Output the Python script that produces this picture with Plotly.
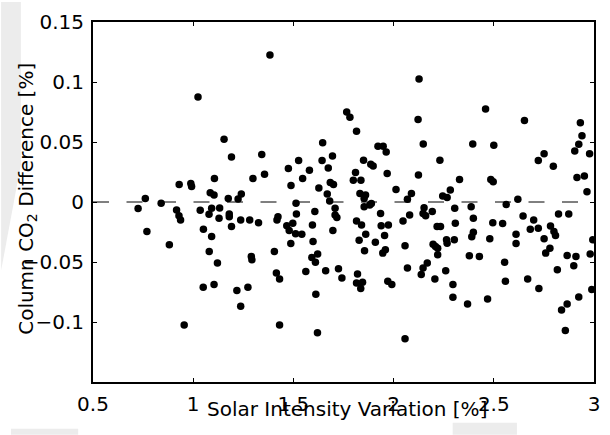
import plotly.graph_objects as go

# Solar intensity variation [%] and column CO2 difference [%] for each sounding
solar_var = [
    0.725, 0.761, 0.769, 0.840, 0.881, 0.917, 0.929, 0.937, 0.930, 0.955,
    0.988, 0.992, 1.024, 1.035, 1.051, 1.080, 1.085, 1.104, 1.079, 1.092,
    1.092, 1.106, 1.121, 1.104, 1.050, 1.129, 1.132, 1.154, 1.175, 1.180,
    1.180, 1.191, 1.191, 1.218, 1.224, 1.237, 1.237, 1.240, 1.273, 1.282,
    1.290, 1.293, 1.298, 1.326, 1.342, 1.356, 1.383, 1.405, 1.415, 1.431,
    1.431, 1.423, 1.418, 1.467, 1.497, 1.479, 1.475, 1.488, 1.487, 1.511,
    1.542, 1.513, 1.515, 1.526, 1.546, 1.562, 1.580, 1.592, 1.595, 1.598,
    1.607, 1.610, 1.612, 1.620, 1.621, 1.627, 1.643, 1.646, 1.661, 1.669,
    1.674, 1.681, 1.684, 1.695, 1.697, 1.700, 1.708, 1.708, 1.717, 1.725,
    1.742, 1.766, 1.782, 1.799, 1.810, 1.815, 1.815, 1.815, 1.820, 1.828,
    1.832, 1.836, 1.837, 1.840, 1.845, 1.850, 1.853, 1.853, 1.855, 1.860,
    1.861, 1.881, 1.886, 1.889, 1.898, 1.909, 1.922, 1.935, 1.938, 1.946,
    1.948, 1.955, 1.959, 1.963, 1.968, 1.971, 1.974, 1.991, 2.012, 2.047,
    2.057, 2.057, 2.069, 2.069, 2.080, 2.089, 2.122, 2.124, 2.127, 2.138,
    2.147, 2.147, 2.148, 2.152, 2.160, 2.168, 2.193, 2.197, 2.206, 2.209,
    2.217, 2.220, 2.220, 2.231, 2.234, 2.245, 2.260, 2.264, 2.267, 2.267,
    2.283, 2.296, 2.296, 2.303, 2.305, 2.308, 2.329, 2.369, 2.378, 2.387,
    2.390, 2.395, 2.398, 2.398, 2.428, 2.459, 2.469, 2.480, 2.485, 2.495,
    2.497, 2.500, 2.544, 2.554, 2.558, 2.562, 2.611, 2.611, 2.620, 2.646,
    2.653, 2.669, 2.682, 2.699, 2.722, 2.722, 2.725, 2.751, 2.751, 2.759,
    2.780, 2.783, 2.797, 2.800, 2.808, 2.817, 2.823, 2.838, 2.857, 2.866,
    2.866, 2.874, 2.899, 2.904, 2.910, 2.915, 2.924, 2.924, 2.932, 2.940,
    2.952, 2.965, 2.978, 2.981, 2.989, 2.994,
]
co2_diff = [
    -0.0055, 0.0030, -0.0246, -0.0010, -0.0357, -0.0066, -0.0114, -0.0149, 0.0146, -0.1026,
    0.0155, 0.0130, 0.0876, -0.0069, -0.0227, -0.0412, 0.0077, 0.0058, -0.0103, -0.0053,
    -0.0288, 0.0196, -0.0509, -0.0688, -0.0711, -0.0136, -0.0050, 0.0522, 0.0030, -0.0100,
    -0.0122, 0.0376, -0.0205, -0.0738, 0.0025, -0.0149, -0.0868, 0.0066, -0.0711, -0.0149,
    -0.0454, -0.0481, 0.0196, -0.0172, 0.0395, 0.0232, 0.1224, -0.0412, -0.0592, -0.0642,
    -0.1026, -0.0122, -0.0149, -0.0197, -0.0177, -0.0238, 0.0279, 0.0138, -0.0346, -0.0265,
    -0.0269, -0.0010, -0.0100, 0.0345, 0.0196, -0.0580, 0.0265, -0.0462, -0.0191, -0.0329,
    -0.0080, -0.0503, -0.0769, -0.1090, -0.0434, 0.0116, 0.0345, 0.0494, -0.0572, 0.0066,
    0.0284, 0.0008, 0.0163, 0.0384, -0.0238, 0.0146, -0.0053, -0.0108, -0.0130, -0.0556,
    -0.0634, 0.0749, 0.0707, 0.0182, 0.0245, 0.0589, -0.0158, -0.0675, -0.0600, -0.0318,
    0.0071, -0.0721, 0.0182, -0.0191, -0.0669, 0.0348, 0.0030, -0.0039, -0.0406, 0.0058,
    -0.0269, -0.0025, 0.0315, -0.0012, 0.0301, -0.0335, 0.0464, -0.0095, -0.0197, -0.0426,
    0.0464, -0.0279, -0.0398, 0.0417, 0.0237, -0.0661, -0.0191, -0.0688, 0.0104, -0.0158,
    -0.0365, -0.1139, 0.0022, -0.0551, -0.0108, 0.0071, 0.0688, 0.0224, 0.1025, -0.0605,
    -0.0095, -0.0551, 0.0483, -0.0047, -0.0114, -0.0509, -0.0080, -0.0352, -0.0642, -0.0371,
    -0.0205, -0.0385, -0.0440, 0.0348, -0.0205, 0.0050, -0.0572, -0.0315, 0.0038, -0.0343,
    0.0100, -0.0688, -0.0794, -0.0315, -0.0053, -0.0177, 0.0187, -0.0849, -0.0448, -0.0039,
    -0.0290, 0.0483, -0.0136, -0.0252, -0.0454, 0.0776, -0.0808, -0.0307, 0.0187, -0.0172,
    0.0168, 0.0473, -0.0180, -0.0503, -0.0661, -0.0020, -0.0269, -0.0346, 0.0022, -0.0116,
    0.0680, -0.0642, -0.0227, -0.0149, -0.0219, 0.0345, -0.0721, 0.0403, -0.0307, -0.0426,
    -0.0385, -0.0199, 0.0298, -0.0246, -0.0279, -0.0564, -0.0100, -0.0899, -0.1070, -0.0445,
    -0.0849, -0.0100, -0.0531, 0.0425, -0.0454, 0.0204, 0.0481, -0.0791, 0.0660, 0.0552,
    0.0216, 0.0085, 0.0403, -0.0434, -0.0730, -0.0315,
]

x_ticks = [0.5, 1, 1.5, 2, 2.5, 3]
x_ticklabels = ["0.5", "1", "1.5", "2", "2.5", "3"]
y_ticks = [-0.1, -0.05, 0, 0.05, 0.1, 0.15]
y_ticklabels = ["\u22120.1", "\u22120.05", "0", "0.05", "0.1", "0.15"]
x_range = [0.5, 3]
y_range = [-0.15, 0.15]

FONT = "DejaVu Sans"
W, H = 610, 435
ML, MR, MT, MB = 93, 10, 20, 53
PW, PH = W - ML - MR, H - MT - MB


def px_to_paper(px, py):
    return (px - ML) / PW, (H - MB - py) / PH


fig = go.Figure()

# zero reference line
fig.add_trace(go.Scatter(
    x=x_range, y=[0, 0], mode="lines",
    line=dict(color="black", width=1, dash="16px,17.5px"),
    hoverinfo="skip", showlegend=False,
))

fig.add_trace(go.Scatter(
    x=solar_var, y=co2_diff, mode="markers",
    marker=dict(color="black", size=7.5, line=dict(width=0)),
    showlegend=False,
))

axis_common = dict(
    showgrid=False, zeroline=False, showline=True, linecolor="black",
    linewidth=2, mirror="ticks", ticks="inside", ticklen=4, tickwidth=1,
    tickcolor="black", tickfont=dict(family=FONT, size=20, color="black"),
)
fig.update_xaxes(range=x_range, tickvals=x_ticks, ticktext=x_ticklabels,
                 ticklabelstandoff=3, **axis_common)
fig.update_yaxes(range=y_range, tickvals=y_ticks, ticktext=y_ticklabels,
                 ticklabelstandoff=3, **axis_common)

# faint grey background patches
bg = "#ececec"
x0, y0 = px_to_paper(0, 0)
x1, y1 = px_to_paper(20, 163)
x2, y2 = px_to_paper(0, 270)
shapes = [
    dict(type="path", xref="paper", yref="paper", layer="below",
         path=f"M {x0} {y0} L {x1} {y0} L {x1} {y1} L {x2} {y2} Z",
         fillcolor=bg, line=dict(width=0)),
]
for (a, b, c, d) in [(10, 429, 78, 435), (457, 423, 522, 435)]:
    ax, ay = px_to_paper(a, b)
    cx, cy = px_to_paper(c, d)
    shapes.append(dict(type="rect", xref="paper", yref="paper", layer="below",
                       x0=ax, y0=cy, x1=cx, y1=ay, fillcolor=bg, line=dict(width=0)))

tx, ty = px_to_paper(350, 409)
yx, yy = px_to_paper(26, 198)
annotations = [
    dict(text="Solar Intensity Variation [%]", xref="paper", yref="paper",
         x=tx, y=ty, xanchor="center", yanchor="middle", showarrow=False,
         font=dict(family=FONT, size=20, color="black")),
    dict(text="Column CO<sub>2</sub> Difference [%]", xref="paper", yref="paper",
         x=yx, y=yy, xanchor="center", yanchor="middle", showarrow=False,
         textangle=-90, font=dict(family=FONT, size=20, color="black")),
]

fig.update_layout(
    width=W, height=H, autosize=False,
    margin=dict(l=ML, r=MR, t=MT, b=MB, pad=0),
    paper_bgcolor="white", plot_bgcolor="white",
    shapes=shapes, annotations=annotations,
)

fig.write_html("out.html")
